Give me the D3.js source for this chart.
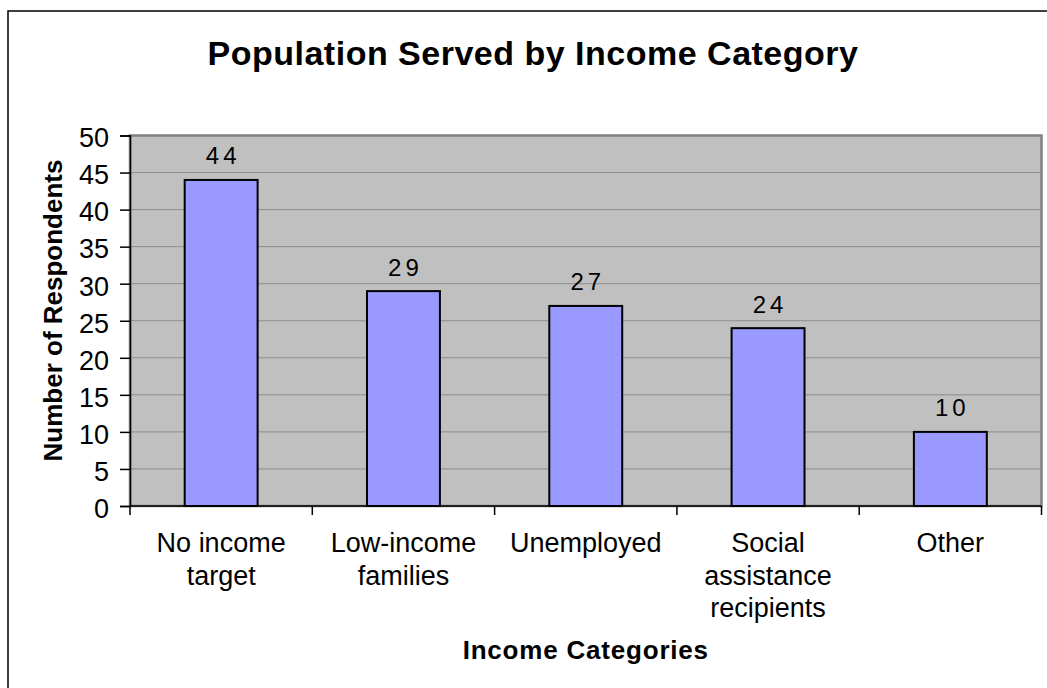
<!DOCTYPE html>
<html>
<head>
<meta charset="utf-8">
<script src="https://cdn.jsdelivr.net/npm/d3@7"></script>
<style>
  html, body { margin: 0; padding: 0; background: #fff; }
  svg { display: block; font-family: "Liberation Sans", Arial, sans-serif; }
</style>
</head>
<body>
<svg id="chart" width="1047" height="688"></svg>
<script>
// Income categories (each entry is split into display lines)
const categories = [
  ["No income", "target"],
  ["Low-income", "families"],
  ["Unemployed"],
  ["Social", "assistance", "recipients"],
  ["Other"]
];
const respondents = [44, 29, 27, 24, 10];
const yTicks = [0, 5, 10, 15, 20, 25, 30, 35, 40, 45, 50];

const svg = d3.select("#chart");
const W = 1047, H = 688;
const plot = { left: 130, top: 135.5, right: 1041.5, bottom: 506 };
const FONT = "Liberation Sans, Arial, sans-serif";

// outer chart frame
svg.append("rect")
  .attr("x", 8).attr("y", 11)
  .attr("width", W + 10).attr("height", H + 10)
  .attr("fill", "#fff").attr("stroke", "#000").attr("stroke-width", 1.5);

const x = d3.scaleBand()
  .domain(d3.range(categories.length))
  .range([plot.left, plot.right])
  .paddingInner(0).paddingOuter(0);

const y = d3.scaleLinear().domain([0, 50]).range([plot.bottom, plot.top]);

// plot area background
svg.append("rect")
  .attr("x", plot.left).attr("y", plot.top)
  .attr("width", plot.right - plot.left).attr("height", plot.bottom - plot.top)
  .attr("fill", "#c0c0c0");

// horizontal gridlines
svg.append("g").selectAll("line")
  .data(yTicks.filter(t => t > 0 && t < 50))
  .join("line")
  .attr("x1", plot.left).attr("x2", plot.right)
  .attr("y1", d => y(d)).attr("y2", d => y(d))
  .attr("stroke", "#8c8c8c").attr("stroke-width", 1);

// plot area border
svg.append("rect")
  .attr("x", plot.left).attr("y", plot.top)
  .attr("width", plot.right - plot.left).attr("height", plot.bottom - plot.top)
  .attr("fill", "none").attr("stroke", "#808080").attr("stroke-width", 2.5);

// bars
const barW = x.bandwidth() * 0.4;
svg.append("g").selectAll("rect")
  .data(respondents)
  .join("rect")
  .attr("x", (d, i) => x(i) + (x.bandwidth() - barW) / 2)
  .attr("y", d => y(d))
  .attr("width", barW)
  .attr("height", d => y(0) - y(d))
  .attr("fill", "#9999ff")
  .attr("stroke", "#000").attr("stroke-width", 2);

// value labels
svg.append("g").selectAll("text")
  .data(respondents)
  .join("text")
  .attr("x", (d, i) => x(i) + x.bandwidth() / 2)
  .attr("dx", 2)
  .attr("y", d => y(d) - 15.5)
  .attr("text-anchor", "middle")
  .attr("font-size", 24)
  .attr("letter-spacing", 4)
  .attr("fill", "#000")
  .text(d => d);

// y axis
const yAxis = d3.axisLeft(y).tickValues(yTicks).tickSize(10).tickPadding(11);
const gy = svg.append("g")
  .attr("transform", `translate(${plot.left},0)`)
  .call(yAxis);
gy.select(".domain").attr("stroke", "#000").attr("stroke-width", 1.5);
gy.selectAll(".tick line").attr("stroke", "#000").attr("stroke-width", 1.5);
gy.selectAll(".tick text")
  .attr("font-size", 27).attr("fill", "#000")
  .attr("font-family", FONT)
  .attr("dy", "0.42em");

// x axis line with ticks between categories
const gx = svg.append("g");
gx.append("line")
  .attr("x1", plot.left).attr("x2", plot.right)
  .attr("y1", plot.bottom).attr("y2", plot.bottom)
  .attr("stroke", "#000").attr("stroke-width", 1.5);
gx.selectAll("line.tk")
  .data(d3.range(categories.length + 1))
  .join("line")
  .attr("class", "tk")
  .attr("x1", i => i < categories.length ? x(i) : plot.right)
  .attr("x2", i => i < categories.length ? x(i) : plot.right)
  .attr("y1", plot.bottom).attr("y2", plot.bottom + 9)
  .attr("stroke", "#000").attr("stroke-width", 1.5);

// category labels
const catG = svg.append("g").selectAll("text")
  .data(categories)
  .join("text")
  .attr("x", (d, i) => x(i) + x.bandwidth() / 2)
  .attr("y", 552)
  .attr("text-anchor", "middle")
  .attr("font-size", 27)
  .attr("fill", "#000");
catG.selectAll("tspan")
  .data(d => d)
  .join("tspan")
  .attr("x", function () { return d3.select(this.parentNode).attr("x"); })
  .attr("dy", (d, j) => j === 0 ? 0 : 32.5)
  .text(d => d);

// titles
svg.append("text")
  .attr("x", 533).attr("y", 65)
  .attr("text-anchor", "middle")
  .attr("font-size", 34).attr("font-weight", "bold")
  .attr("letter-spacing", 0.5)
  .text("Population Served by Income Category");

svg.append("text")
  .attr("x", (plot.left + plot.right) / 2).attr("y", 659)
  .attr("text-anchor", "middle")
  .attr("font-size", 26).attr("font-weight", "bold")
  .attr("letter-spacing", 0.8)
  .text("Income Categories");

svg.append("text")
  .attr("transform", `translate(62,310.5) rotate(-90)`)
  .attr("text-anchor", "middle")
  .attr("font-size", 26).attr("font-weight", "bold")
  .text("Number of Respondents");
</script>
</body>
</html>
